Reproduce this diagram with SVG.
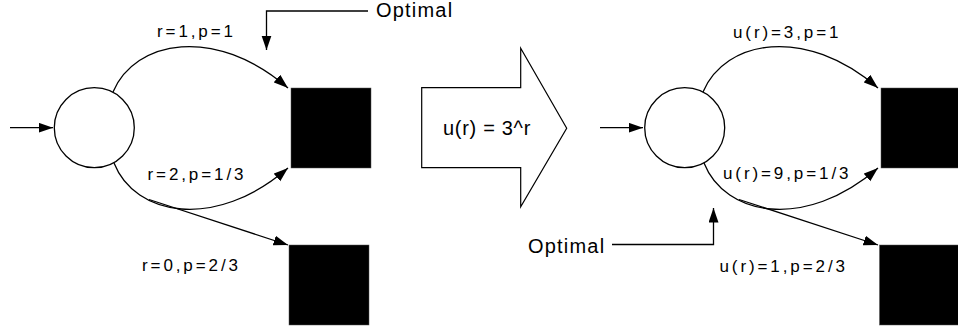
<svg xmlns="http://www.w3.org/2000/svg" width="958" height="333" viewBox="0 0 958 333">
<defs>
<style>
.edge{fill:none;stroke:#000;stroke-width:1.3}
.lbl{font-family:"Liberation Sans",Arial,sans-serif;font-size:17px;letter-spacing:2.9px;fill:#000}
.opt{font-family:"Liberation Sans",Arial,sans-serif;font-size:20px;letter-spacing:1.2px;fill:#000}
.state{fill:#fff;stroke:#000;stroke-width:1.3}
.term{fill:#000;stroke:#555;stroke-width:0.5}
</style>
<marker id="ah" markerUnits="userSpaceOnUse" markerWidth="16" markerHeight="11" refX="14.5" refY="5" orient="auto">
<path d="M0,0 L14.5,5 L0,10 z" fill="#000"/>
</marker>
</defs>
<rect width="958" height="333" fill="#fff"/>

<g id="connectors">
<path class="edge" d="M10,127.7 H53" marker-end="url(#ah)"/>
<path class="edge" d="M113,92 C135,40 215,25 288,88" marker-end="url(#ah)"/>
<path class="edge" d="M114,163 C135,216 215,231 288,168" marker-end="url(#ah)"/>
<path class="edge" d="M149,199.5 L288,245" marker-end="url(#ah)"/>
<path class="edge" d="M368,11 H266.5 V50" marker-end="url(#ah)"/>

<path class="edge" d="M600,127.7 H643" marker-end="url(#ah)"/>
<path class="edge" d="M703,92 C725,40 805,25 878,88" marker-end="url(#ah)"/>
<path class="edge" d="M704,163 C725,216 805,231 878,168" marker-end="url(#ah)"/>
<path class="edge" d="M739,199.5 L878,245" marker-end="url(#ah)"/>
<path class="edge" d="M612,244.5 H713.5 V208" marker-end="url(#ah)"/>
</g>

<g id="s0"><circle class="state" cx="94.3" cy="127.7" r="40"/></g>
<g id="t1"><rect class="term" x="291" y="88" width="80" height="80"/></g>
<g id="t2"><rect class="term" x="289" y="245" width="80" height="80"/></g>

<g id="transform">
<polygon points="421.7,87.7 520.7,87.7 520.7,48.3 566.7,128.3 520.7,206.7 520.7,167.7 421.7,167.7" fill="#fff" stroke="#000" stroke-width="1.2"/>
<text x="443" y="135" font-family="'Liberation Sans',Arial,sans-serif" font-size="20" letter-spacing="0.7">u(r) = 3^r</text>
</g>

<g id="s0b"><circle class="state" cx="684.7" cy="127.7" r="40"/></g>
<g id="t1b"><rect class="term" x="881" y="88" width="80" height="80"/></g>
<g id="t2b"><rect class="term" x="879.5" y="245" width="80" height="80"/></g>

<g id="labels">
<text class="lbl" x="157" y="37">r=1,p=1</text>
<text class="lbl" x="147.5" y="180">r=2,p=1/3</text>
<text class="lbl" x="142" y="271">r=0,p=2/3</text>
<text class="lbl" x="733" y="38">u(r)=3,p=1</text>
<text class="lbl" x="723" y="179">u(r)=9,p=1/3</text>
<text class="lbl" x="719.5" y="272">u(r)=1,p=2/3</text>
<text class="opt" x="376" y="17">Optimal</text>
<text class="opt" x="528" y="253">Optimal</text>
</g>
</svg>
